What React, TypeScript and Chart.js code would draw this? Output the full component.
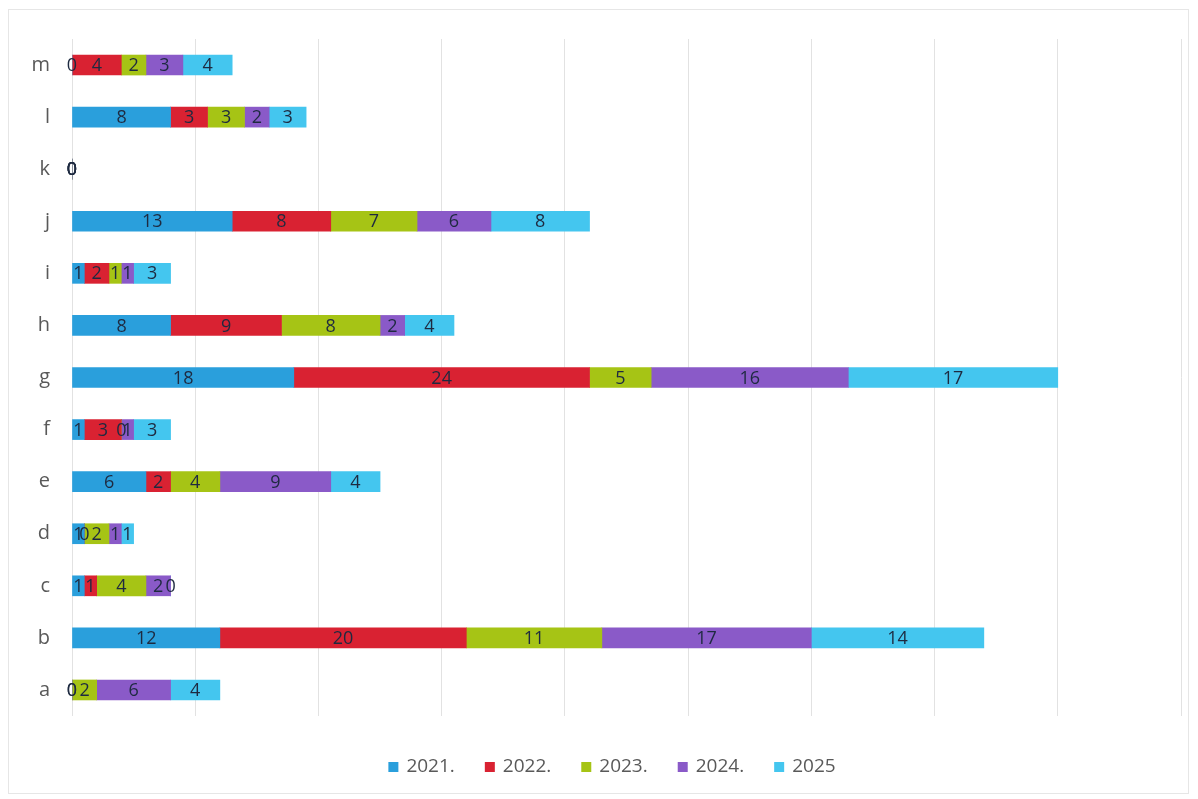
import React, { useEffect, useRef } from "react";
import { Chart, registerables } from "chart.js";

Chart.register(...registerables);

const categories = ["a", "b", "c", "d", "e", "f", "g", "h", "i", "j", "k", "l", "m"];
const seriesNames = ["2021.", "2022.", "2023.", "2024.", "2025"];
const v2021 = [0, 12, 1, 1, 6, 1, 18, 8, 1, 13, 0, 8, 0];
const v2022 = [0, 20, 1, 0, 2, 3, 24, 9, 2, 8, 0, 3, 4];
const v2023 = [2, 11, 4, 2, 4, 0, 5, 8, 1, 7, 0, 3, 2];
const v2024 = [6, 17, 2, 1, 9, 1, 16, 2, 1, 6, 0, 2, 3];
const v2025 = [4, 14, 0, 1, 4, 3, 17, 4, 3, 8, 0, 3, 4];
const colors = ["#2a9fdc", "#d92232", "#a6c415", "#8a5ac8", "#44c6ef"];

const FONT = "'Open Sans', 'Liberation Sans', sans-serif";

const labelPlugin = {
  id: "segLabels",
  afterDatasetsDraw(chart: any) {
    const ctx = chart.ctx;
    ctx.save();
    ctx.font = `18px ${FONT}`;
    ctx.fillStyle = "#1e2a40";
    ctx.textAlign = "center";
    ctx.textBaseline = "middle";
    chart.data.datasets.forEach((ds: any, di: number) => {
      const meta = chart.getDatasetMeta(di);
      meta.data.forEach((el: any, i: number) => {
        const v = ds.data[i];
        const p = el.getProps(["x", "y", "base"], true);
        const cx = (p.x + p.base) / 2;
        ctx.fillText(String(v), cx, p.y + 1);
      });
    });
    ctx.restore();
  },
};

const legendPlugin = {
  id: "customLegend",
  afterDraw(chart: any) {
    const ctx = chart.ctx;
    ctx.save();
    ctx.font = `19px ${FONT}`;
    ctx.textBaseline = "middle";
    ctx.textAlign = "left";
    const box = 10;
    const gapText = 8;
    const gapItem = 30;
    const items = chart.data.datasets.map((ds: any) => ({
      text: ds.label,
      color: ds.backgroundColor,
      w: box + gapText + ctx.measureText(ds.label).width,
    }));
    const total = items.reduce((s: number, it: any) => s + it.w, 0) + gapItem * (items.length - 1);
    let x = 612 - total / 2;
    const y = 767;
    items.forEach((it: any) => {
      ctx.fillStyle = it.color;
      ctx.fillRect(x, y - box / 2, box, box);
      ctx.fillStyle = "#595959";
      ctx.fillText(it.text, x + box + gapText, y);
      x += it.w + gapItem;
    });
    ctx.restore();
  },
};

export default function App() {
  const ref = useRef<HTMLCanvasElement>(null);
  useEffect(() => {
    if (!ref.current) return;
    const all = [v2021, v2022, v2023, v2024, v2025];
    const chart = new Chart(ref.current, {
      type: "bar",
      data: {
        labels: categories,
        datasets: all.map((d, i) => ({
          label: seriesNames[i],
          data: d,
          backgroundColor: colors[i],
          borderWidth: 0,
          barThickness: 20,
        })),
      },
      options: {
        indexAxis: "y",
        animation: false,
        responsive: false,
        maintainAspectRatio: false,
        layout: { padding: { left: 0, right: 17, top: 39, bottom: 0 } },
        scales: {
          x: {
            stacked: true,
            min: 0,
            max: 90,
            ticks: { display: false, stepSize: 10 },
            grid: { color: "#e2e2e2", drawTicks: false, lineWidth: 1 },
            border: { display: false },
            afterFit: (s: any) => {
              s.height = 83;
            },
          },
          y: {
            stacked: true,
            reverse: true,
            ticks: { color: "#595959", font: { size: 20, family: FONT }, padding: 22 },
            grid: { display: false, drawTicks: false },
            border: { display: false },
            afterFit: (s: any) => {
              s.width = 72;
            },
          },
        },
        plugins: {
          legend: { display: false },
          tooltip: { enabled: false },
        },
      },
      plugins: [labelPlugin, legendPlugin],
    } as any);
    return () => chart.destroy();
  }, []);
  return (
    <div style={{ position: "fixed", left: 0, top: 0, width: 1198, height: 799, background: "#fff" }}>
      <div
        style={{
          position: "absolute",
          left: 8,
          top: 9,
          width: 1181,
          height: 785,
          border: "1px solid #e6e6e6",
          boxSizing: "border-box",
        }}
      />
      <canvas ref={ref} width={1198} height={799} style={{ position: "absolute", left: 0, top: 0 }} />
    </div>
  );
}
